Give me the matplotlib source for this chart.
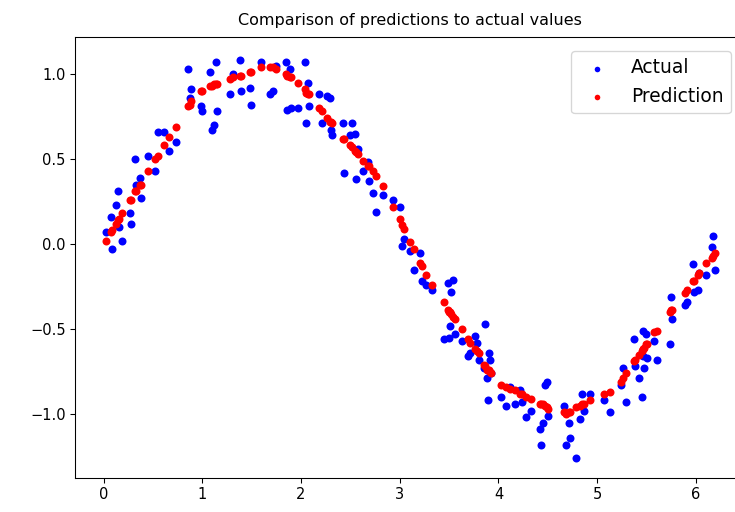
import matplotlib
matplotlib.use("Agg")
import matplotlib.pyplot as plt
import numpy as np

# x positions shared by both series
x_vals = [
    0.02, 0.08, 0.09, 0.13, 0.15, 0.16, 0.19, 0.27, 0.28, 0.32,
    0.33, 0.37, 0.38, 0.45, 0.52, 0.55, 0.61, 0.66, 0.73, 0.86,
    0.88, 0.89, 0.99, 1.00, 1.08, 1.10, 1.12, 1.14, 1.15, 1.28,
    1.31, 1.38, 1.39, 1.48, 1.49, 1.59, 1.69, 1.72, 1.75, 1.85,
    1.86, 1.89, 1.90, 1.97, 2.04, 2.05, 2.07, 2.08, 2.18, 2.21,
    2.26, 2.29, 2.30, 2.31, 2.43, 2.44, 2.50, 2.52, 2.55, 2.56,
    2.58, 2.63, 2.68, 2.69, 2.73, 2.76, 2.83, 2.93, 3.00, 3.02,
    3.04, 3.10, 3.14, 3.21, 3.23, 3.27, 3.33, 3.45, 3.49, 3.50,
    3.51, 3.52, 3.54, 3.56, 3.63, 3.69, 3.71, 3.76, 3.78, 3.80,
    3.85, 3.86, 3.88, 3.89, 3.90, 3.91, 3.92, 4.03, 4.08, 4.12,
    4.17, 4.22, 4.24, 4.28, 4.33, 4.42, 4.43, 4.45, 4.47, 4.49,
    4.50, 4.66, 4.68, 4.71, 4.72, 4.79, 4.83, 4.85, 4.87, 4.93,
    5.07, 5.13, 5.24, 5.26, 5.29, 5.37, 5.38, 5.42, 5.45, 5.46,
    5.46, 5.47, 5.49, 5.50, 5.58, 5.61, 5.74, 5.75, 5.76, 5.89,
    5.91, 5.97, 5.98, 6.02, 6.03, 6.10, 6.16, 6.17, 6.19,
]

actual = [
    0.07, 0.16, -0.03, 0.23, 0.31, 0.10, 0.02, 0.18, 0.12, 0.50,
    0.35, 0.39, 0.27, 0.52, 0.43, 0.66, 0.66, 0.55, 0.60, 1.03,
    0.86, 0.91, 0.81, 0.78, 1.01, 0.67, 0.70, 1.07, 0.78, 0.88,
    1.00, 1.08, 0.90, 0.92, 0.82, 1.07, 0.88, 0.90, 1.05, 1.07,
    0.79, 1.03, 0.80, 0.80, 1.07, 0.71, 0.95, 0.81, 0.88, 0.71,
    0.87, 0.86, 0.67, 0.64, 0.71, 0.42, 0.64, 0.71, 0.65, 0.38,
    0.56, 0.43, 0.48, 0.37, 0.30, 0.19, 0.29, 0.26, 0.22, -0.01,
    0.03, -0.04, -0.15, -0.05, -0.22, -0.24, -0.27, -0.56, -0.23, -0.55,
    -0.48, -0.28, -0.21, -0.53, -0.57, -0.66, -0.64, -0.54, -0.58, -0.68,
    -0.73, -0.47, -0.79, -0.92, -0.64, -0.68, -0.76, -0.90, -0.95, -0.84,
    -0.94, -0.86, -0.93, -1.02, -0.98, -1.09, -1.18, -1.05, -0.83, -0.81,
    -1.01, -0.95, -1.18, -1.05, -1.14, -1.26, -1.03, -0.88, -0.98, -0.88,
    -0.92, -0.99, -0.83, -0.73, -0.93, -0.56, -0.72, -0.79, -0.90, -0.51,
    -0.66, -0.73, -0.53, -0.67, -0.57, -0.68, -0.59, -0.31, -0.44, -0.36,
    -0.34, -0.12, -0.28, -0.27, -0.17, -0.18, -0.02, 0.05, -0.15,
]

prediction = [
    0.02, 0.07, 0.08, 0.12, 0.14, 0.15, 0.18, 0.26, 0.26, 0.31,
    0.31, 0.35, 0.35, 0.43, 0.50, 0.52, 0.58, 0.63, 0.69, 0.81,
    0.82, 0.84, 0.90, 0.90, 0.93, 0.93, 0.94, 0.94, 0.94, 0.97,
    0.98, 0.99, 0.99, 1.01, 1.01, 1.04, 1.04, 1.04, 1.03, 1.00,
    0.99, 0.98, 0.98, 0.95, 0.91, 0.89, 0.88, 0.88, 0.80, 0.78,
    0.74, 0.72, 0.72, 0.71, 0.62, 0.62, 0.58, 0.57, 0.55, 0.54,
    0.53, 0.49, 0.46, 0.46, 0.43, 0.40, 0.34, 0.22, 0.15, 0.11,
    0.09, 0.01, -0.03, -0.11, -0.13, -0.18, -0.24, -0.34, -0.39, -0.40,
    -0.40, -0.41, -0.43, -0.44, -0.50, -0.56, -0.58, -0.62, -0.63, -0.64,
    -0.71, -0.72, -0.74, -0.74, -0.74, -0.75, -0.76, -0.83, -0.84, -0.85,
    -0.86, -0.88, -0.88, -0.90, -0.91, -0.94, -0.94, -0.94, -0.95, -0.96,
    -0.97, -0.99, -1.00, -0.99, -0.99, -0.96, -0.95, -0.94, -0.94, -0.92,
    -0.88, -0.87, -0.81, -0.79, -0.76, -0.69, -0.68, -0.65, -0.63, -0.62,
    -0.62, -0.61, -0.59, -0.59, -0.52, -0.51, -0.40, -0.39, -0.39, -0.29,
    -0.27, -0.22, -0.22, -0.18, -0.17, -0.11, -0.08, -0.07, -0.05,
]

x = np.array(x_vals)

fig = plt.figure(figsize=(735 / 96, 512 / 96), dpi=96)
ax = fig.add_axes([0.102, 0.0664, 0.912, 0.8613])

ax.scatter(x, actual, color="b", s=36, linewidths=0, label="Actual")
ax.scatter(x, prediction, color="r", s=36, linewidths=0, label="Prediction")

ax.set_xlim(-0.29, 6.50)
ax.set_ylim(-1.376, 1.218)
ax.set_xticks([0, 1, 2, 3, 4, 5, 6])
ax.set_yticks([-1.0, -0.5, 0.0, 0.5, 1.0])
ax.tick_params(labelsize=11)
ax.set_title("Comparison of predictions to actual values", fontsize=12, pad=9)

ax.legend(loc="upper right", bbox_to_anchor=(731 / 735, 1 - 51 / 512),
          bbox_transform=fig.transFigure, borderaxespad=0,
          fontsize=14, markerscale=0.7, scatterpoints=1)

fig.savefig("out.png", dpi=96)
